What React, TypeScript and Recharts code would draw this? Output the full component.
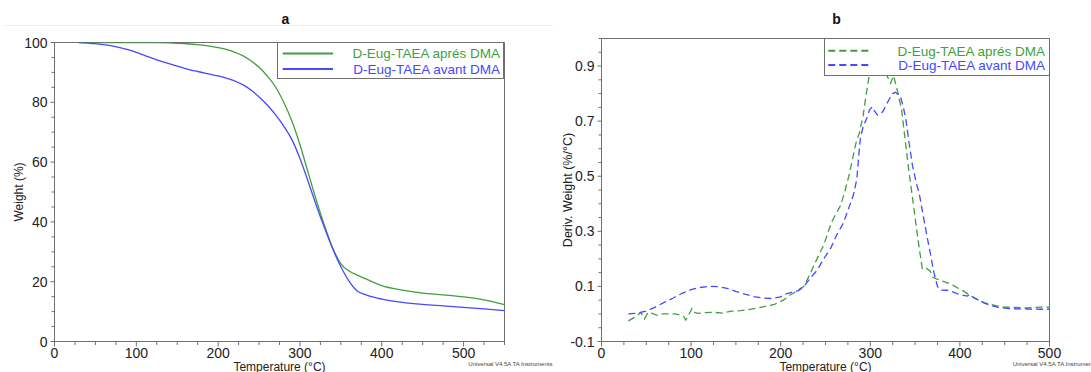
import React from 'react';
import { LineChart, Line, XAxis, YAxis, ReferenceArea, Legend } from 'recharts';

const FONT = '"Liberation Sans", Arial, sans-serif';
const GREEN = '#3f9f3f';
const BLUE = '#4848ff';
const AXIS = '#707070';
const TEXT = '#222222';

const seriesNames = ['D-Eug-TAEA aprés DMA', 'D-Eug-TAEA avant DMA'];
const seriesColors = [GREEN, BLUE];

// ---- Chart a : TGA (Weight %) ----
const tgaTemp = [30, 50, 70, 80, 90, 100, 110, 125, 140, 150, 160, 175, 190, 200, 210, 220, 230, 240, 250, 260, 270, 280, 290, 300, 310, 320, 330, 340, 350, 360, 370, 380, 390, 400, 425, 450, 475, 500, 525, 550];
const tgaApres = [100, 100, 100, 100, 100, 100, 100, 99.95, 99.85, 99.75, 99.6, 99.3, 98.8, 98.3, 97.7, 96.8, 95.6, 93.9, 91.7, 88.8, 85.2, 80.1, 73.8, 65.8, 56.5, 47.3, 38.8, 31.3, 26.0, 23.6, 22.2, 21.0, 19.8, 18.7, 17.2, 16.2, 15.6, 14.9, 13.9, 12.3];
const tgaAvant = [100, 99.6, 98.9, 98.3, 97.6, 96.7, 95.7, 94.2, 92.9, 92.1, 91.3, 90.3, 89.4, 88.8, 88.1, 87.2, 85.9, 84.1, 81.8, 79.1, 75.9, 72.1, 67.6, 61.2, 53.5, 45.5, 38.0, 31.0, 25.0, 20.2, 16.9, 15.7, 14.8, 14.2, 13.1, 12.4, 11.9, 11.4, 10.9, 10.3];

// ---- Chart b : DTG (Deriv. Weight %/°C) ----
const dtgApresTemp = [30, 37, 44, 48, 52, 56, 62, 68, 75, 82, 88, 92, 94, 97, 101, 104, 108, 115, 125, 135, 145, 155, 166, 175, 185, 193, 203, 210, 215, 220, 226, 232, 239, 248, 257, 267, 272, 276, 280, 284, 288, 292, 296, 300, 305, 310, 315, 318, 320, 322.5, 326, 331, 335, 339, 343, 348, 352, 355, 358, 361, 363, 367, 370, 380, 390, 404, 415, 427, 440, 449, 460, 475, 490, 500];
const dtgApresVal = [-0.025, -0.012, 0.005, -0.018, 0.006, 0.003, -0.005, 0.0, 0.0, 0.0, -0.004, -0.01, -0.022, -0.005, 0.02, 0.005, 0.002, 0.005, 0.006, 0.003, 0.01, 0.012, 0.017, 0.022, 0.029, 0.035, 0.05, 0.068, 0.077, 0.088, 0.1, 0.14, 0.19, 0.25, 0.335, 0.395, 0.45, 0.5, 0.56, 0.62, 0.66, 0.72, 0.81, 0.89, 0.95, 0.97, 0.92, 0.87, 0.855, 0.837, 0.865, 0.8, 0.74, 0.63, 0.52, 0.4, 0.3, 0.23, 0.165, 0.16, 0.165, 0.155, 0.132, 0.12, 0.108, 0.083, 0.06, 0.041, 0.03, 0.025, 0.024, 0.022, 0.025, 0.025];
const dtgAvantTemp = [30, 40, 50, 60, 70, 80, 90, 100, 110, 120, 130, 140, 150, 160, 170, 180, 190, 200, 205, 212, 220, 226, 233, 241, 248, 256, 263, 270, 276, 281, 285, 287, 289, 292, 296, 299, 302, 305, 308, 311, 314, 318, 322, 325, 328, 331, 334, 337, 340, 343, 347, 351, 355, 360, 364, 367, 371, 375, 378, 386, 392, 397, 403, 408, 411, 416, 422, 428, 435, 442, 450, 460, 475, 490, 500];
const dtgAvantVal = [0.0, 0.003, 0.01, 0.025, 0.042, 0.058, 0.075, 0.088, 0.096, 0.1, 0.099, 0.093, 0.082, 0.072, 0.063, 0.058, 0.056, 0.062, 0.072, 0.078, 0.085, 0.1, 0.13, 0.16, 0.2, 0.24, 0.29, 0.33, 0.385, 0.43, 0.49, 0.57, 0.64, 0.68, 0.71, 0.74, 0.752, 0.735, 0.722, 0.725, 0.735, 0.76, 0.785, 0.8, 0.805, 0.797, 0.785, 0.75, 0.7, 0.626, 0.54, 0.48, 0.43, 0.34, 0.27, 0.22, 0.15, 0.1, 0.087, 0.086, 0.08, 0.074, 0.068, 0.065, 0.07, 0.058, 0.048, 0.038, 0.03, 0.025, 0.021, 0.019, 0.018, 0.017, 0.017];

// ---- tick labels ----
const tgaXTicks = [0, 100, 200, 300, 400, 500];
const tgaYTicks = [0, 20, 40, 60, 80, 100];
const dtgXTicks = [0, 100, 200, 300, 400, 500];
const dtgYTicks = [-0.1, 0.1, 0.3, 0.5, 0.7, 0.9];

const zip = (xs: number[], ys: number[]) => xs.map((t, i) => ({ t, v: ys[i] }));
const tgaApresData = zip(tgaTemp, tgaApres);
const tgaAvantData = zip(tgaTemp, tgaAvant);
const dtgApresData = zip(dtgApresTemp, dtgApresVal);
const dtgAvantData = zip(dtgAvantTemp, dtgAvantVal);

const allTicks = (min: number, max: number, step: number) => {
  const out: number[] = [];
  const n = Math.round((max - min) / step);
  for (let i = 0; i <= n; i++) out.push(Math.round((min + i * step) * 1000) / 1000);
  return out;
};
const isIn = (arr: number[], v: number) => arr.some((m) => Math.abs(m - v) < 1e-6);

const makeXTick = (majors: number[], fmt: (v: number) => string) => (props: any) => {
  const { x, y, payload } = props;
  const v = payload.value;
  const major = isIn(majors, v);
  return (
    <g>
      <line x1={x} x2={x} y1={y} y2={y + (major ? 5 : 3.5)} stroke={AXIS} strokeWidth={1} />
      {major && (
        <text x={x} y={y + 16.5} textAnchor="middle" fontSize={14} fill={TEXT} fontFamily={FONT}>
          {fmt(v)}
        </text>
      )}
    </g>
  );
};
const makeYTick = (majors: number[], fmt: (v: number) => string) => (props: any) => {
  const { x, y, payload } = props;
  const v = payload.value;
  const major = isIn(majors, v);
  return (
    <g>
      <line x1={x} x2={x - (major ? 4 : 3)} y1={y} y2={y} stroke={AXIS} strokeWidth={1} />
      {major && (
        <text x={x - 7} y={y} dy="0.36em" textAnchor="end" fontSize={14} fill={TEXT} fontFamily={FONT}>
          {fmt(v)}
        </text>
      )}
    </g>
  );
};

const LegendBox = ({ w, h, lineX1, lineX2, rowY, textEnd, dashed }: any) => (
  <svg width={w} height={h} style={{ display: 'block' }}>
    {seriesNames.map((name, i) => (
      <g key={name}>
        <line x1={lineX1} x2={lineX2} y1={rowY[i]} y2={rowY[i]} stroke={seriesColors[i]} strokeWidth={2}
          strokeDasharray={dashed ? '7 4' : undefined} />
        <text x={textEnd} y={rowY[i]} dy="0.36em" textAnchor="end" fontSize={13.5} fill={seriesColors[i]} fontFamily={FONT}>
          {name}
        </text>
      </g>
    ))}
  </svg>
);

const fmtInt = (v: number) => String(v);
const fmt1 = (v: number) => v.toFixed(1);

export default function App() {
  return (
    <div style={{ position: 'absolute', left: 0, top: 0, width: 1091, height: 372, background: '#fff', fontFamily: FONT, overflow: 'hidden' }}>
      <div style={{ position: 'absolute', left: 0, top: 0 }}>
        <LineChart width={545} height={372} margin={{ top: 42.5, right: 40.5, bottom: 0.5, left: 0.5 }}>
          <XAxis type="number" dataKey="t" domain={[0, 550]} ticks={allTicks(0, 550, 25)} interval={0}
            tick={makeXTick(tgaXTicks, fmtInt)} tickLine={false} tickSize={0} tickMargin={0} height={30}
            axisLine={{ stroke: AXIS }} allowDataOverflow
            label={{ value: 'Temperature (°C)', position: 'insideBottom', offset: 1, style: { fontSize: 12, fill: TEXT, fontFamily: FONT } }} />
          <YAxis type="number" domain={[0, 100]} ticks={allTicks(0, 100, 5)} interval={0}
            tick={makeYTick(tgaYTicks, fmtInt)} tickLine={false} tickSize={0} tickMargin={0} width={54}
            axisLine={{ stroke: AXIS }} allowDataOverflow
            label={{ value: 'Weight (%)', angle: -90, position: 'insideLeft', offset: 18, style: { fontSize: 12, fill: TEXT, fontFamily: FONT, textAnchor: 'middle' } }} />
          <ReferenceArea x1={0} x2={550} y1={0} y2={100} fill="none" fillOpacity={0} stroke={AXIS} strokeOpacity={1} ifOverflow="visible" />
          <Line data={tgaApresData} dataKey="v" name={seriesNames[0]} type="monotone" stroke={GREEN} strokeWidth={1.3} dot={false} isAnimationActive={false} />
          <Line data={tgaAvantData} dataKey="v" name={seriesNames[1]} type="monotone" stroke={BLUE} strokeWidth={1.3} dot={false} isAnimationActive={false} />
          <Legend layout="vertical" verticalAlign="middle" align="center"
            wrapperStyle={{ position: 'absolute', left: 277, top: 42, width: 227, height: 37, background: '#fff', border: `1px solid ${AXIS}`, boxSizing: 'border-box', margin: 0, padding: 0 }}
            content={() => <LegendBox w={225} h={35} lineX1={4.7} lineX2={55} rowY={[10.5, 26]} textEnd={222} dashed={false} />} />
        </LineChart>
      </div>
      <div style={{ position: 'absolute', left: 545, top: 0 }}>
        <LineChart width={546} height={372} margin={{ top: 38.5, right: 41.5, bottom: 0.5, left: 0.5 }}>
          <XAxis type="number" dataKey="t" domain={[0, 500]} ticks={allTicks(0, 500, 25)} interval={0}
            tick={makeXTick(dtgXTicks, fmtInt)} tickLine={false} tickSize={0} tickMargin={0} height={30}
            axisLine={{ stroke: AXIS }} allowDataOverflow
            label={{ value: 'Temperature (°C)', position: 'insideBottom', offset: 1, style: { fontSize: 12, fill: TEXT, fontFamily: FONT } }} />
          <YAxis type="number" domain={[-0.1, 1.0]} ticks={allTicks(-0.1, 1.0, 0.05)} interval={0}
            tick={makeYTick(dtgYTicks, fmt1)} tickLine={false} tickSize={0} tickMargin={0} width={56}
            axisLine={{ stroke: AXIS }} allowDataOverflow
            label={{ value: 'Deriv. Weight (%/°C)', angle: -90, position: 'insideLeft', offset: 22, style: { fontSize: 12.5, fill: TEXT, fontFamily: FONT, textAnchor: 'middle' } }} />
          <ReferenceArea x1={0} x2={500} y1={-0.1} y2={1.0} fill="none" fillOpacity={0} stroke={AXIS} strokeOpacity={1} ifOverflow="visible" />
          <Line data={dtgApresData} dataKey="v" name={seriesNames[0]} type="linear" stroke={GREEN} strokeWidth={1.3} strokeDasharray="7 4" dot={false} isAnimationActive={false} />
          <Line data={dtgAvantData} dataKey="v" name={seriesNames[1]} type="linear" stroke={BLUE} strokeWidth={1.3} strokeDasharray="7 4" dot={false} isAnimationActive={false} />
          <Legend layout="vertical" verticalAlign="middle" align="center"
            wrapperStyle={{ position: 'absolute', left: 279, top: 38, width: 226, height: 38, background: '#fff', border: `1px solid ${AXIS}`, boxSizing: 'border-box', margin: 0, padding: 0 }}
            content={() => <LegendBox w={224} h={36} lineX1={3.3} lineX2={45} rowY={[11.7, 26]} textEnd={220} dashed={true} />} />
        </LineChart>
      </div>
      <svg width={1091} height={372} style={{ position: 'absolute', left: 0, top: 0, pointerEvents: 'none' }}>
        <line x1={4} x2={553} y1={25.5} y2={25.5} stroke="#eeeeee" strokeWidth={1} />
        <text x={285.5} y={24} textAnchor="middle" fontSize={14} fontWeight="bold" fill="#111" fontFamily={FONT}>a</text>
        <text x={836.5} y={24} textAnchor="middle" fontSize={14} fontWeight="bold" fill="#111" fontFamily={FONT}>b</text>
        <text x={468.3} y={365.5} fontSize={6} fill="#444" fontFamily={FONT}>Universal V4.5A TA Instruments</text>
        <text x={1012.7} y={365.5} fontSize={6} fill="#444" fontFamily={FONT}>Universal V4.5A TA Instruments</text>
      </svg>
    </div>
  );
}
